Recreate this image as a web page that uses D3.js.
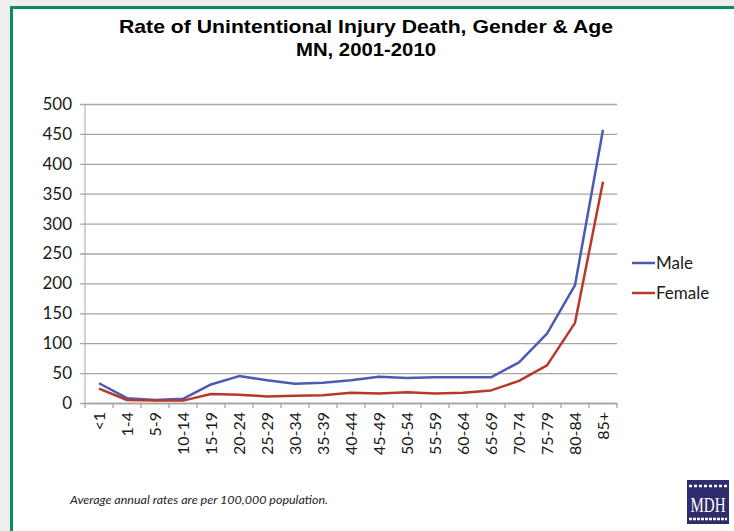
<!DOCTYPE html>
<html>
<head>
<meta charset="utf-8">
<script src="https://cdn.jsdelivr.net/npm/d3@7"></script>
<style>
  body { margin: 0; background: #f0f0f0; }
  svg { display: block; }
</style>
</head>
<body>
<div id="container"></div>
<script>
/* DATA */
const ageGroups = ["<1", "1-4", "5-9", "10-14", "15-19", "20-24", "25-29", "30-34", "35-39",
  "40-44", "45-49", "50-54", "55-59", "60-64", "65-69", "70-74", "75-79", "80-84", "85+"];
const maleRates = [33, 8, 5, 7, 31, 45, 38, 32, 34, 38, 44, 42, 43, 43, 43, 68, 116, 197, 457];
const femaleRates = [24, 5, 4, 4, 15, 14, 11, 12, 13, 17, 16, 18, 16, 17, 21, 37, 63, 134, 370];
const yTicks = [0, 50, 100, 150, 200, 250, 300, 350, 400, 450, 500];
const seriesNames = ["Male", "Female"];
const seriesColors = ["#4d5ab4", "#b6392c"];

/* CONSTANTS */
const width = 734;
const height = 531;
const margin = { top: 104, left: 85, right: 117, bottom: 128 };

const svg = d3
  .select("#container")
  .append("svg")
  .attr("width", width)
  .attr("height", height);

// frame ------------------------------------------------
svg.append("rect")
  .attr("x", 0).attr("y", 0)
  .attr("width", width).attr("height", height)
  .attr("fill", "#efefef");
svg.append("rect")
  .attr("x", 11.5).attr("y", 7.5)
  .attr("width", width + 10).attr("height", height + 10)
  .attr("fill", "white")
  .attr("stroke", "#0d8a60")
  .attr("stroke-width", 3);

/* SCALES */
const xScale = d3.scaleBand()
  .domain(ageGroups)
  .range([margin.left, width - margin.right]);

const yScale = d3.scaleLinear()
  .domain([0, 500])
  .range([height - margin.bottom, margin.top]);

// TITLE ------------------------------------------------
svg.append("text")
  .attr("x", 366).attr("y", 33)
  .attr("text-anchor", "middle")
  .style("font-family", "'Liberation Sans', Arial, sans-serif")
  .style("font-weight", "bold")
  .style("font-size", "19px")
  .attr("textLength", 494)
  .attr("lengthAdjust", "spacingAndGlyphs")
  .text("Rate of Unintentional Injury Death, Gender & Age");
svg.append("text")
  .attr("x", 366).attr("y", 56)
  .attr("text-anchor", "middle")
  .style("font-family", "'Liberation Sans', Arial, sans-serif")
  .style("font-weight", "bold")
  .style("font-size", "19px")
  .attr("textLength", 140)
  .attr("lengthAdjust", "spacingAndGlyphs")
  .text("MN, 2001-2010");

// GRID + Y AXIS ----------------------------------------
const yAxis = svg.append("g")
  .attr("transform", `translate(${margin.left},0)`)
  .call(d3.axisLeft(yScale)
    .tickValues(yTicks)
    .tickSize(-(width - margin.left - margin.right))
    .tickPadding(13));
yAxis.select(".domain").attr("stroke", "#a8a2a0").attr("d", `M0,${yScale(500)}V${yScale(0)}`);
yAxis.selectAll(".tick line")
  .attr("x1", -5)
  .attr("stroke", "#aaa4a2")
  .attr("stroke-width", 1.3);
yAxis.selectAll(".tick text")
  .style("font-family", "Lato, 'Open Sans', sans-serif")
  .style("font-size", "17px")
  .attr("fill", "#1a1a1a");

// X AXIS -----------------------------------------------
const xAxis = svg.append("g")
  .attr("transform", `translate(0,${yScale(0)})`)
  .call(d3.axisBottom(xScale).tickSize(0).tickPadding(8));
xAxis.select(".domain").attr("stroke", "#a8a2a0").attr("stroke-width", 1.3);
xAxis.selectAll(".tick text")
  .attr("transform", "rotate(-90)")
  .attr("text-anchor", "end")
  .attr("x", -9)
  .attr("y", 0)
  .attr("dy", "0.35em")
  .style("font-family", "Lato, 'Open Sans', sans-serif")
  .style("font-size", "16px")
  .attr("fill", "#1a1a1a");

// boundary ticks
svg.append("g")
  .selectAll("line")
  .data(ageGroups.concat(["end"]))
  .join("line")
  .attr("x1", (d, i) => i < ageGroups.length ? xScale(d) : xScale.range()[1])
  .attr("x2", (d, i) => i < ageGroups.length ? xScale(d) : xScale.range()[1])
  .attr("y1", yScale(0))
  .attr("y2", yScale(0) + 5)
  .attr("stroke", "#a8a2a0")
  .attr("stroke-width", 1.3);

// LINES ------------------------------------------------
const line = d3.line()
  .x((d, i) => xScale(ageGroups[i]) + xScale.bandwidth() / 2)
  .y((d) => yScale(d));

[maleRates, femaleRates].forEach((values, k) => {
  svg.append("path")
    .datum(values)
    .attr("fill", "none")
    .attr("stroke", seriesColors[k])
    .attr("stroke-width", 2.5)
    .attr("stroke-linejoin", "round")
    .attr("d", line);
});

// LEGEND -----------------------------------------------
const legend = svg.append("g")
  .selectAll("g")
  .data(seriesNames)
  .join("g")
  .attr("transform", (d, i) => `translate(632,${263 + i * 30})`);
legend.append("line")
  .attr("x1", 0).attr("x2", 23)
  .attr("stroke", (d, i) => seriesColors[i])
  .attr("stroke-width", 2.5);
legend.append("text")
  .attr("x", 24)
  .attr("dy", "0.35em")
  .style("font-family", "Lato, 'Open Sans', sans-serif")
  .style("font-size", "17px")
  .attr("fill", "#1a1a1a")
  .text((d) => d);

// FOOTNOTE ---------------------------------------------
svg.append("text")
  .attr("x", 70).attr("y", 504)
  .style("font-family", "Lato, sans-serif")
  .style("font-style", "italic")
  .style("font-size", "11px")
  .attr("textLength", 258)
  .attr("lengthAdjust", "spacingAndGlyphs")
  .attr("fill", "#222")
  .text("Average annual rates are per 100,000 population.");

// MDH LOGO ---------------------------------------------
const logo = svg.append("g").attr("transform", "translate(687,480)");
logo.append("rect")
  .attr("width", 42).attr("height", 44)
  .attr("fill", "#2f2c6e");
logo.append("line")
  .attr("x1", 2).attr("x2", 40).attr("y1", 6).attr("y2", 6)
  .attr("stroke", "white").attr("stroke-width", 2.5).attr("stroke-dasharray", "3,2");
logo.append("line")
  .attr("x1", 2).attr("x2", 40).attr("y1", 39).attr("y2", 39)
  .attr("stroke", "white").attr("stroke-width", 2.5).attr("stroke-dasharray", "3,1");
logo.append("text")
  .attr("transform", "translate(21,32) scale(1,1.45)")
  .attr("text-anchor", "middle")
  .style("font-family", "'Liberation Serif', serif")
  .style("font-size", "15px")
  .attr("fill", "white")
  .text("MDH");
</script>
</body>
</html>
